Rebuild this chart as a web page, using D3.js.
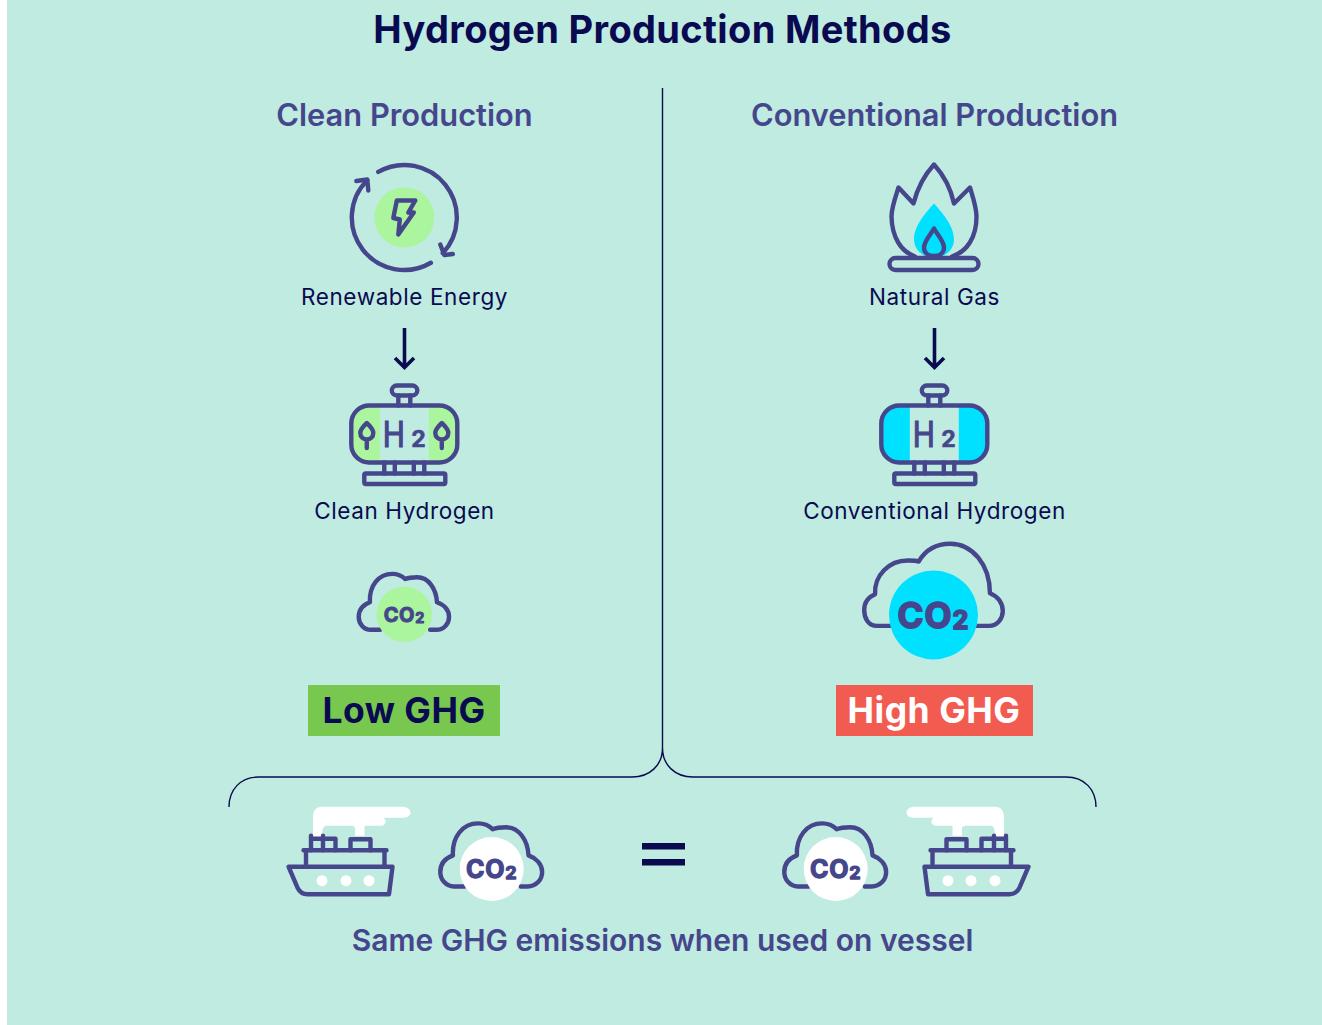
<!DOCTYPE html>
<html>
<head>
<meta charset="utf-8">
<title>Hydrogen Production Methods</title>
<script src="https://cdn.jsdelivr.net/npm/d3@7"></script>
<style>
  html, body { margin: 0; padding: 0; background: #fff; }
  text { font-family: Inter, "Noto Sans", sans-serif; }
</style>
</head>
<body>
<div id="container"></div>
<script>
// text content
const chartTitle = "Hydrogen Production Methods";
const routes = ["clean", "conventional"];
const routeTitles = ["Clean Production", "Conventional Production"];
const sourceLabels = ["Renewable Energy", "Natural Gas"];
const hydrogenLabels = ["Clean Hydrogen", "Conventional Hydrogen"];
const ghgLabels = ["Low GHG", "High GHG"];
const footerLabel = "Same GHG emissions when used on vessel";

let w = 1322;
let h = 1025;

const navy = "#0a0a50";
const purple = "#46468c";
const bg = "#bfebe0";
const green = "#abf59f";
const cyan = "#00e1ff";
const iconStroke = 4.4;

let xCol = d3.scaleOrdinal().domain(routes).range([404.5, 934.5]);

let viz = d3.select("#container")
  .append("svg")
    .attr("width", w)
    .attr("height", h)
    .style("display", "block");

viz.append("rect").attr("x", 7).attr("y", 0).attr("width", w - 7).attr("height", h).attr("fill", bg);

function label(parent, str, x, y, size, weight, fill, spacing) {
  return parent.append("text")
    .attr("x", x).attr("y", y)
    .attr("text-anchor", "middle")
    .attr("font-size", size)
    .attr("font-weight", weight)
    .attr("fill", fill)
    .attr("letter-spacing", spacing || 0)
    .text(str);
}

function lineGroup(parent) {
  return parent.append("g")
    .attr("fill", "none")
    .attr("stroke", purple)
    .attr("stroke-width", iconStroke)
    .attr("stroke-linecap", "round")
    .attr("stroke-linejoin", "round");
}

label(viz, chartTitle, 662.5, 43, 38, 700, navy, 0.35);

// centre line and bracket
viz.append("path")
  .attr("fill", "none")
  .attr("stroke", navy)
  .attr("stroke-width", 1.4)
  .attr("d", "M662.5,88V748 M229,807C229,790 240,777 259,777H632C650,777 662.5,765 662.5,748C662.5,765 675,777 693,777H1066C1085,777 1096,790 1096,807");

// ------ icons, all drawn around their own origin

function renewableIcon(g) {
  g.append("circle").attr("r", 30).attr("fill", green);
  let s = lineGroup(g);
  let arc = d3.arc().innerRadius(52.5).outerRadius(52.5);
  s.append("path").attr("d", arc({startAngle: -0.52, endAngle: 2.32}));
  s.append("path").attr("d", arc({startAngle: 2.61, endAngle: 5.5}));
  s.append("path").attr("d", "M36,27L40,37.5L48.5,36.5");
  s.append("path").attr("d", "M-48,-36.5L-37,-38L-36,-27");
  s.append("path").attr("d", "M-7.5,-17H11L4,-5H9.5L-6,17L-4.5,2L-11,0.5Z");
}

function tankIcon(g, fillColor, leaves) {
  // body is 106 wide and 57 tall, origin at its centre
  let clipId = "tank" + fillColor.slice(1);
  g.append("clipPath").attr("id", clipId)
    .append("rect").attr("x", -53).attr("y", -28.5).attr("width", 106).attr("height", 57).attr("rx", 18);
  let fillG = g.append("g").attr("clip-path", "url(#" + clipId + ")").attr("fill", fillColor);
  fillG.append("rect").attr("x", -53).attr("y", -29).attr("width", 28.5).attr("height", 58);
  fillG.append("rect").attr("x", 24.5).attr("y", -29).attr("width", 29).attr("height", 58);

  let s = lineGroup(g);
  s.append("rect").attr("x", -53).attr("y", -28.5).attr("width", 106).attr("height", 57).attr("rx", 18);
  s.append("rect").attr("x", -12.5).attr("y", -48.5).attr("width", 25.5).attr("height", 10).attr("rx", 5);
  s.append("path").attr("d", "M-6,-38.5V-28.5 M6,-38.5V-28.5");
  s.append("path").attr("d", "M-20,28.5V39.5 M-9.5,28.5V39.5 M9.5,28.5V39.5 M20,28.5V39.5");
  s.append("rect").attr("x", -40).attr("y", 39.5).attr("width", 81).attr("height", 10.5).attr("rx", 1.5);

  if (leaves) {
    [-37.5, 37.5].forEach(x => {
      s.append("path")
        .attr("transform", `translate(${x},0)`)
        .attr("d", "M0,-11C3,-8 6.5,-5 6.5,-1C6.5,3 3.5,5.5 0,5.5C-3.5,5.5 -6.5,3 -6.5,-1C-6.5,-5 -3,-8 0,-11Z M0,5.5V14");
    });
  }

  g.append("text")
    .attr("transform", "translate(-21.5,12.5) scale(0.85,1)")
    .attr("font-size", 35)
    .attr("font-family", "Lato, Inter, sans-serif")
    .attr("fill", purple)
    .attr("stroke", purple)
    .attr("stroke-width", 1.2)
    .text("H");
  g.append("text")
    .attr("x", 7).attr("y", 12.5)
    .attr("font-size", 23)
    .attr("font-weight", 700)
    .attr("font-family", "Lato, Inter, sans-serif")
    .attr("fill", purple)
    .attr("stroke", purple)
    .attr("stroke-width", 0.6)
    .text("2");
}

function flameIcon(g) {
  g.append("path").attr("fill", cyan)
    .attr("d", "M0,-14C8,-5 20,8 20,22C20,31 13,38 6,39H-6C-13,38 -20,31 -20,22C-20,8 -8,-5 0,-14Z");
  let s = lineGroup(g);
  s.append("path").attr("d", "M-19,39C-33,34 -42,20 -42.5,-1C-42.5,-10 -38,-22 -35.5,-30L-20.5,-14C-17,-28 -10,-42 0,-53C10,-42 17,-28 20,-14L36,-30C39,-20 42.5,-10 42.5,-1C42.5,20 33,34 18,39");
  s.append("path").attr("d", "M0,11C4,18 10,24 10,30C10,35 6,38.5 0,38.5C-6,38.5 -10,35 -10,30C-10,24 -4,18 0,11Z");
  s.append("rect").attr("x", -44.5).attr("y", 40.5).attr("width", 89).attr("height", 12).attr("rx", 6);
}

// big cloud and the flatter one used for the smaller icons
const bigCloud = "M-44,11H-57C-66,11 -70,3 -70,-5C-70,-13 -66,-18 -59,-21C-60,-40 -45,-55 -26,-55C-22,-55 -18,-55 -15,-54C-8,-66 3,-72 17,-72C39,-72 57,-51 57,-22C65,-19 70,-12 70,-4C70,3 65,11 56,11H43";
const flatCloud = "M-28,18H-39C-47,18 -53,11 -53,3C-53,-5 -48,-11 -40,-14C-41,-33 -30,-47 -14,-47C-8,-47 -3,-45 1,-41C6,-43 10,-43 15,-43C28,-43 37,-30 38,-14C46,-11 52,-5 52,3C52,11 46,18 37,18H30";

function cloudIcon(g, outline, scale, radius, fillColor, textSize) {
  g.append("path")
    .attr("d", outline)
    .attr("transform", `scale(${scale})`)
    .attr("fill", "none")
    .attr("stroke", purple)
    .attr("stroke-width", iconStroke / scale)
    .attr("stroke-linecap", "round")
    .attr("stroke-linejoin", "round");
  g.append("circle").attr("r", radius).attr("fill", fillColor);
  let t = g.append("text").attr("text-anchor", "middle").attr("y", textSize * 0.36)
    .attr("fill", purple).attr("stroke", purple).attr("stroke-width", textSize / 20)
    .attr("stroke-linejoin", "round")
    .attr("font-weight", 700).attr("font-size", textSize)
    .attr("letter-spacing", textSize / 30)
    .attr("font-family", "Lato, Inter, sans-serif");
  t.append("tspan").text("CO");
  t.append("tspan").attr("font-size", textSize * 0.72).attr("dy", textSize * 0.05).text("2");
}

function shipIcon(g) {
  // origin is the middle of the hull top; smoke goes right
  g.append("path").attr("fill", "#fff")
    .attr("d", "M-27.5,-29V-50C-27.5,-56 -24,-60 -19,-60H62C68,-60 70,-56 70,-54.5C70,-50 66,-49 62,-49H43C46,-47 46,-42 41,-41H24V-31H14.5V-38C14.5,-40 13,-41 11,-41H-14C-16.5,-41 -18,-39 -18,-36V-29Z");
  let s = lineGroup(g);
  s.append("path").attr("d", "M-52,0H52L48.5,27.5H-33C-38,27.5 -41,25 -43,21Z");
  s.append("path").attr("d", "M-34.5,0V-16.5H44V0 M-37,-16.5H46");
  s.append("path").attr("d", "M-29.5,-31V-16.5 M-17.5,-31V-16.5 M-29.5,-28H-5V-16.5");
  s.append("path").attr("d", "M10,-16.5V-27.5H30V-16.5");
  [-18.5, 5.5, 28.5].forEach(x => {
    g.append("circle").attr("cx", x).attr("cy", 14).attr("r", 5.5).attr("fill", "#fff");
  });
}

function arrow(parent, x) {
  parent.append("path")
    .attr("transform", `translate(${x},0)`)
    .attr("fill", "none")
    .attr("stroke", navy)
    .attr("stroke-width", 3.6)
    .attr("d", "M0,328V367 M-9.5,358L0,367.5L9.5,358");
}

// ------ the two columns

let columns = viz.selectAll(".route")
  .data(routes)
  .join("g")
    .attr("class", "route");

columns.each(function(route, i) {
  let col = d3.select(this);
  let cx = xCol(route);
  label(col, routeTitles[i], cx, 126, 30.8, 600, purple);
  label(col, sourceLabels[i], cx, 305, 22.5, 400, navy, 0.6);
  arrow(col, cx);
  label(col, hydrogenLabels[i], cx, 519, 22.5, 400, navy, 0.6);

  let bw = i == 0 ? 192 : 197;
  col.append("rect")
    .attr("x", i == 0 ? 308 : 836)
    .attr("y", 685)
    .attr("width", bw)
    .attr("height", 51)
    .attr("fill", i == 0 ? "#78c850" : "#f25c50");
  label(col, ghgLabels[i], cx - 0.5, 723, 35.5, 700, i == 0 ? navy : "#fff", 0.5);
});

renewableIcon(viz.append("g").attr("transform", "translate(404.3,217.5)"));
flameIcon(viz.append("g").attr("transform", "translate(934,217.5)"));
tankIcon(viz.append("g").attr("transform", "translate(404.3,434)"), green, true);
tankIcon(viz.append("g").attr("transform", "translate(934.3,434)"), cyan, false);
cloudIcon(viz.append("g").attr("transform", "translate(404.3,614.3)"), flatCloud, 0.86, 27.7, green, 20);
cloudIcon(viz.append("g").attr("transform", "translate(933.5,615)"), bigCloud, 0.99, 44.5, cyan, 35);

// ------ bottom row

shipIcon(viz.append("g").attr("transform", "translate(340.5,866.7)"));
shipIcon(viz.append("g").attr("transform", "translate(976.5,866.7) scale(-1,1)"));
cloudIcon(viz.append("g").attr("transform", "translate(491.7,869)"), flatCloud, 0.97, 32, "#fff", 25);
cloudIcon(viz.append("g").attr("transform", "translate(835.7,869)"), flatCloud, 0.97, 32, "#fff", 25);

viz.append("rect").attr("x", 642).attr("y", 843).attr("width", 43).attr("height", 6.5).attr("fill", navy);
viz.append("rect").attr("x", 642).attr("y", 859).attr("width", 43).attr("height", 6.5).attr("fill", navy);

label(viz, footerLabel, 662.5, 951, 30, 600, purple);
</script>
</body>
</html>
